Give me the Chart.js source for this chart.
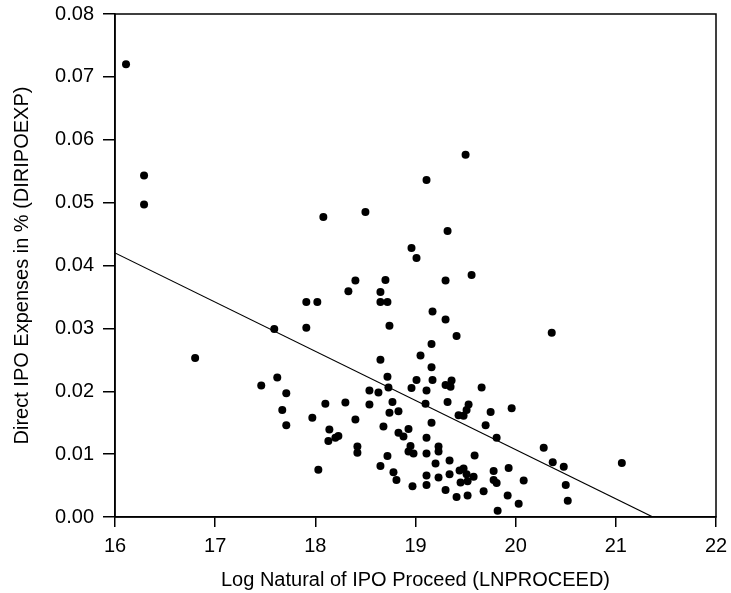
<!DOCTYPE html>
<html>
<head>
<meta charset="utf-8">
<script src="https://cdn.jsdelivr.net/npm/chart.js@4"></script>
<style>
  body { margin: 0; background: #fff; }
  canvas { display: block; }
</style>
</head>
<body>
<canvas id="ipoChart" width="731" height="593"></canvas>
<script>
// LNPROCEED (x) and DIRIPOEXP (y)
const lnProceed = [
  16.11, 16.29, 16.29, 18.08, 18.50, 19.50, 19.11, 19.32, 18.96, 19.01,
  16.80, 17.59, 17.91, 18.02, 17.91, 18.33, 18.40, 18.70, 18.65, 18.65,
  18.72, 18.74, 18.65, 18.72, 18.73, 18.54, 18.63, 18.77, 18.54, 18.74,
  18.83, 17.62, 17.46, 17.71, 17.67, 17.71, 17.97, 18.10, 18.30, 18.14,
  18.13, 18.20, 18.23, 18.40, 18.42, 18.42, 18.03, 18.68, 18.83, 18.72,
  18.65, 18.78, 18.81, 19.30, 19.56, 19.17, 19.30, 19.41, 19.16, 19.05,
  19.16, 19.17, 19.01, 18.96, 19.11, 19.36, 19.30, 19.35, 19.66, 19.10,
  19.32, 19.53, 19.51, 19.43, 19.48, 19.75, 19.96, 19.70, 19.81, 19.16,
  18.88, 18.93, 19.11, 18.95, 18.93, 18.98, 19.11, 19.23, 19.23, 19.20,
  19.34, 19.59, 18.97, 19.11, 19.11, 19.23, 19.34, 19.30, 19.41, 19.44,
  19.48, 19.51, 19.58, 19.45, 19.52, 19.52, 19.68, 19.78, 19.78, 19.81,
  19.93, 20.08, 19.92, 20.03, 19.82, 20.36, 20.28, 20.37, 20.48, 20.50,
  20.52, 21.06
];
const dirIpoExp = [
  0.0720, 0.0543, 0.0497, 0.0477, 0.0485, 0.0576, 0.0536, 0.0455, 0.0428, 0.0412,
  0.0253, 0.0299, 0.0342, 0.0342, 0.0301, 0.0359, 0.0376, 0.0377, 0.0358, 0.0342,
  0.0342, 0.0304, 0.0250, 0.0223, 0.0206, 0.0201, 0.0198, 0.0183, 0.0179, 0.0166,
  0.0168, 0.0222, 0.0209, 0.0197, 0.0170, 0.0146, 0.0158, 0.0180, 0.0182, 0.0139,
  0.0121, 0.0126, 0.0129, 0.0155, 0.0112, 0.0102, 0.0075, 0.0144, 0.0134, 0.0097,
  0.0081, 0.0071, 0.0059, 0.0376, 0.0385, 0.0327, 0.0314, 0.0288, 0.0275, 0.0257,
  0.0238, 0.0218, 0.0218, 0.0205, 0.0201, 0.0217, 0.0210, 0.0207, 0.0206, 0.0180,
  0.0183, 0.0179, 0.0170, 0.0162, 0.0161, 0.0167, 0.0173, 0.0146, 0.0126, 0.0150,
  0.0128, 0.0140, 0.0126, 0.0113, 0.0104, 0.0101, 0.0101, 0.0112, 0.0104, 0.0085,
  0.0090, 0.0098, 0.0049, 0.0066, 0.0051, 0.0063, 0.0068, 0.0043, 0.0032, 0.0074,
  0.0077, 0.0068, 0.0064, 0.0055, 0.0057, 0.0034, 0.0041, 0.0073, 0.0059, 0.0054,
  0.0078, 0.0058, 0.0034, 0.0021, 0.0010, 0.0293, 0.0110, 0.0087, 0.0080, 0.0051,
  0.0026, 0.0086
];

// fitted line end points
const fitX = [16, 21.37];
const fitY = [0.0420, 0];

const xTicks = [16, 17, 18, 19, 20, 21, 22];
const yTicks = [0, 0.01, 0.02, 0.03, 0.04, 0.05, 0.06, 0.07, 0.08];

const FONT = "'Liberation Sans', Arial, sans-serif";

// frame round the plot area
const framePlugin = {
    id: 'frame',
    afterDraw(chart) {
        const a = chart.chartArea;
        const ctx = chart.ctx;
        ctx.save();
        ctx.strokeStyle = '#000';
        ctx.lineWidth = 1.5;
        ctx.strokeRect(a.left, a.top, a.right - a.left, a.bottom - a.top);
        ctx.restore();
    }
};

const points = lnProceed.map((x, i) => ({ x: x, y: dirIpoExp[i] }));
const fitLine = fitX.map((x, i) => ({ x: x, y: fitY[i] }));

new Chart(document.getElementById('ipoChart'), {
    type: 'scatter',
    data: {
        datasets: [
            {
                data: points,
                backgroundColor: '#000',
                borderWidth: 0,
                pointRadius: 4,
                pointHoverRadius: 4
            },
            {
                type: 'line',
                data: fitLine,
                borderColor: '#000',
                borderWidth: 1.2,
                pointRadius: 0,
                fill: false
            }
        ]
    },
    options: {
        responsive: false,
        animation: false,
        layout: { padding: { top: 14, right: 15, left: 0, bottom: 0 } },
        plugins: { legend: { display: false }, tooltip: { enabled: false } },
        scales: {
            x: {
                type: 'linear',
                min: 16,
                max: 22,
                afterBuildTicks: s => { s.ticks = xTicks.map(v => ({ value: v })); },
                afterFit: s => { s.height = 76; s.paddingLeft = 0; s.paddingRight = 0; },
                grid: { display: true, drawOnChartArea: false, drawTicks: true, tickLength: 10, color: '#000', lineWidth: 1.5 },
                border: { display: true, color: '#000', width: 1.5 },
                ticks: { color: '#000', padding: 7, font: { family: FONT, size: 20 } },
                title: { display: true, text: 'Log Natural of IPO Proceed (LNPROCEED)', color: '#000', padding: { top: 0, bottom: 1 }, font: { family: FONT, size: 20 } }
            },
            y: {
                type: 'linear',
                min: 0,
                max: 0.08,
                afterBuildTicks: s => { s.ticks = yTicks.map(v => ({ value: v })); },
                afterFit: s => { s.width = 115; s.paddingTop = 0; s.paddingBottom = 0; },
                grid: { display: true, drawOnChartArea: false, drawTicks: true, tickLength: 12, color: '#000', lineWidth: 1.5 },
                border: { display: true, color: '#000', width: 1.5 },
                ticks: { color: '#000', padding: 9, font: { family: FONT, size: 20 }, callback: v => v.toFixed(2) },
                title: { display: true, text: 'Direct IPO Expenses in % (DIRIPOEXP)', color: '#000', padding: { top: 10 }, font: { family: FONT, size: 20 } }
            }
        }
    },
    plugins: [framePlugin]
});
</script>
</body>
</html>
